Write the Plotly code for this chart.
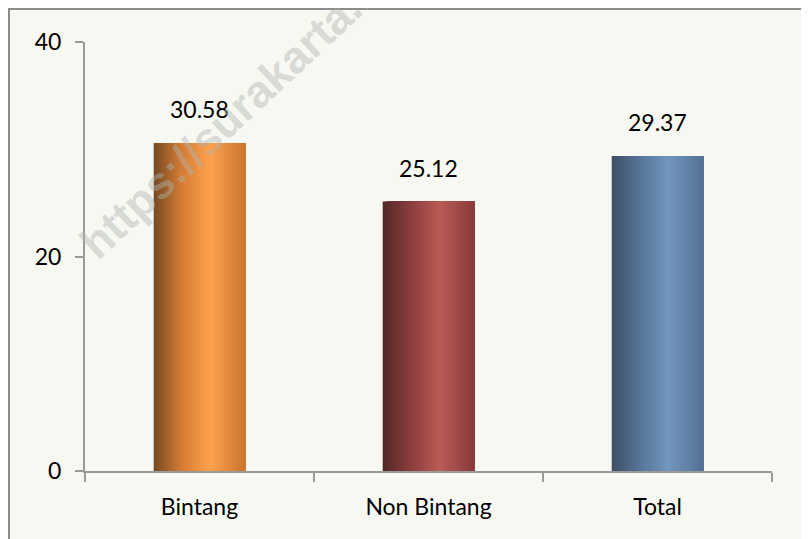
import plotly.graph_objects as go

# ---- data ----
categories = ["Bintang", "Non Bintang", "Total"]
values = [30.58, 25.12, 29.37]
value_labels = ["30.58", "25.12", "29.37"]
y_ticks = [0, 20, 40]

# ---- style: cylinder-like horizontal shading per bar (t, rgb) ----
shade_stops = {
    "Bintang": [(0.0, (118, 74, 36)), (0.3, (212, 124, 52)), (0.62, (255, 162, 76)), (1.0, (200, 116, 48))],
    "Non Bintang": [(0.0, (84, 40, 40)), (0.3, (138, 60, 60)), (0.62, (186, 92, 86)), (1.0, (136, 58, 58))],
    "Total": [(0.0, (62, 78, 100)), (0.3, (86, 116, 152)), (0.62, (114, 150, 190)), (1.0, (84, 112, 148))],
}

def shade(stops, t):
    for (t0, c0), (t1, c1) in zip(stops[:-1], stops[1:]):
        if t0 <= t <= t1:
            f = (t - t0) / (t1 - t0)
            c = [round(a + (b - a) * f) for a, b in zip(c0, c1)]
            return "rgb(%d,%d,%d)" % tuple(c)
    return "rgb(%d,%d,%d)" % stops[-1][1]

BAR_W = 0.4
N = 40
fig = go.Figure()
for i in range(N):
    start = -BAR_W / 2 + i * BAR_W / N
    t = (i + 0.5) / N
    fig.add_trace(go.Bar(
        x=categories, y=values,
        offset=start, width=BAR_W / 2 - start,
        marker=dict(color=[shade(shade_stops[c], t) for c in categories], line=dict(width=0)),
        hoverinfo="skip", showlegend=False,
    ))

BG = "#F8F8F3"
FONT = "Lato, 'Open Sans', sans-serif"

# figure geometry (page body has an 8px margin)
W, H = 801, 531
L, R, T, B = 77, 37, 34, 68
PW, PH = W - L - R, H - T - B

def px(fx):
    return (fx - L) / PW

def py(fy):
    return (H - B - fy) / PH

# value labels
for c, v, lab in zip(categories, values, value_labels):
    fig.add_annotation(x=c, y=v, text=lab, showarrow=False, yanchor="middle", yshift=34,
                       font=dict(family=FONT, size=23, color="#000000"))

# watermark
fig.add_annotation(xref="paper", yref="paper", x=px(286), y=py(50), xanchor="center", yanchor="middle",
                   text="<b>https://surakarta.bps.go.id</b>", showarrow=False, textangle=-43,
                   font=dict(family="Liberation Sans, Arial, sans-serif", size=45, color="rgba(175,180,175,0.45)"))

# outer border frame (left and top edges visible)
fig.add_shape(type="rect", xref="paper", yref="paper", layer="below",
              x0=px(1), x1=px(W + 20), y0=py(H + 20), y1=py(1),
              fillcolor=BG, line=dict(color="#8c8c8c", width=2))

fig.update_layout(
    width=W, height=H,
    margin=dict(l=L, r=R, t=T, b=B),
    paper_bgcolor=BG, plot_bgcolor="rgba(0,0,0,0)",
    barmode="overlay",
    font=dict(family=FONT, size=23, color="#000000"),
)
fig.update_xaxes(type="category", showline=True, linecolor="#9a9a9a", linewidth=2,
                 ticks="outside", tickson="boundaries", ticklen=9, tickwidth=2, tickcolor="#9a9a9a",
                 showgrid=False, ticklabelstandoff=14, tickfont=dict(family=FONT, size=23))
fig.update_yaxes(range=[0, 40], tickvals=y_ticks, showline=True, linecolor="#9a9a9a", linewidth=2,
                 ticks="outside", ticklen=8, tickwidth=2, tickcolor="#9a9a9a",
                 showgrid=False, zeroline=False, ticklabelstandoff=9, tickfont=dict(family=FONT, size=23))

fig.write_html("out.html")
